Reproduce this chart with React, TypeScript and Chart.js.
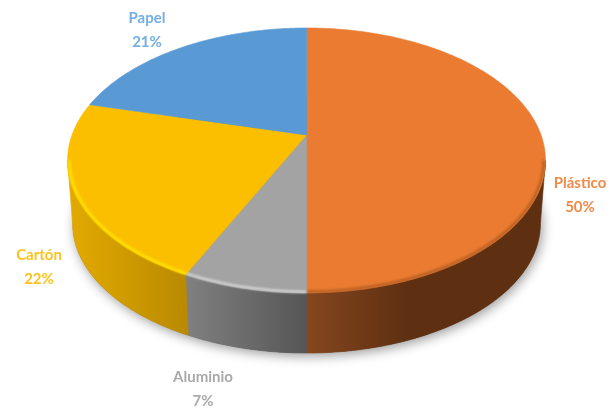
import React, { useEffect, useRef } from "react";
import { Chart, registerables } from "chart.js";

Chart.register(...registerables);

const categories = ["Plástico", "Aluminio", "Cartón", "Papel"];
const shares = [50, 7, 22, 21];
const percentLabels = ["50%", "7%", "22%", "21%"];
const faceColors = ["#EA7B30", "#A3A3A3", "#FBBF00", "#5A9AD4"];
const textColors = ["#F08A48", "#A9A9A9", "#FDC21C", "#74AEE2"];
const sideStops = [
  [[0, "#86461F"], [0.42, "#5E3011"], [1, "#5E3011"]],
  [[0, "#808080"], [1, "#565656"]],
  [[0, "#E3AA00"], [1, "#BA8A00"]],
  [[0, "#3F6E99"], [1, "#3F6E99"]],
];
const bevelColors = ["rgba(120,60,20,0.45)", "#D4D4D4", "#FFE600", "#5A9AD4"];
const labelCentres = [[580, 183], [203, 377], [39, 255], [147, 18]];
const LINE_GAP = 24.5;

// projection of the round pie onto the screen
const K = 0.1925;
const TOP = { w: 234.5, h: 127.6, dy: 0 };
const BASE = { w: 229.5, h: 124.4, dy: 64 };

function place(el: any, a: number, level: typeof TOP, ring = 1) {
  const u = Math.cos(a) * ring;
  const v = Math.sin(a) * ring;
  const d = 1 - K * v;
  return [el.x + (level.w * u) / d, el.y + level.dy + (level.h * v) / d];
}

function sweep(ctx: CanvasRenderingContext2D, el: any, from: number, to: number, level: typeof TOP, ring = 1, move = false) {
  const n = Math.max(2, Math.ceil(Math.abs(to - from) * 60));
  for (let i = 0; i <= n; i++) {
    const p = place(el, from + ((to - from) * i) / n, level, ring);
    if (i === 0 && move) ctx.moveTo(p[0], p[1]);
    else ctx.lineTo(p[0], p[1]);
  }
}

const pie3d = {
  id: "pie3d",
  beforeDatasetDraw(chart: any) {
    const ctx: CanvasRenderingContext2D = chart.ctx;
    const arcs = chart.getDatasetMeta(0).data;
    const first = arcs[0];
    const edge = Math.asin(K);
    ctx.save();

    // soft shadow under the base
    ctx.save();
    ctx.shadowColor = "rgba(0,0,0,0.4)";
    ctx.shadowBlur = 12;
    ctx.shadowOffsetX = 2;
    ctx.shadowOffsetY = 3;
    ctx.fillStyle = "#666";
    ctx.beginPath();
    sweep(ctx, first, 0, Math.PI * 2, BASE, 1, true);
    ctx.closePath();
    ctx.fill();
    ctx.restore();

    // side walls
    arcs.forEach((el: any, i: number) => {
      const from = Math.max(el.startAngle, edge);
      const to = Math.min(el.endAngle, Math.PI - edge);
      if (to <= from) return;
      const x0 = place(el, from, TOP)[0];
      const x1 = place(el, to, TOP)[0];
      const g = ctx.createLinearGradient(Math.min(x0, x1), 0, Math.max(x0, x1), 0);
      sideStops[i].forEach((s) => g.addColorStop(s[0] as number, s[1] as string));
      ctx.fillStyle = g;
      ctx.strokeStyle = g;
      ctx.lineWidth = 0.6;
      ctx.beginPath();
      sweep(ctx, el, from, to, TOP, 1, true);
      sweep(ctx, el, to, from, BASE);
      ctx.closePath();
      ctx.fill();
      ctx.stroke();
    });

    // top faces
    arcs.forEach((el: any) => {
      ctx.fillStyle = el.options.backgroundColor;
      ctx.strokeStyle = el.options.backgroundColor;
      ctx.lineWidth = 0.6;
      ctx.beginPath();
      ctx.moveTo(el.x, el.y);
      sweep(ctx, el, el.startAngle, el.endAngle, TOP);
      ctx.closePath();
      ctx.fill();
      ctx.stroke();
    });

    // bevel along the front rim
    ctx.save();
    ctx.filter = "blur(0.8px)";
    arcs.forEach((el: any, i: number) => {
      const from = Math.max(el.startAngle, edge);
      const to = Math.min(el.endAngle, Math.PI - edge);
      if (to <= from) return;
      ctx.strokeStyle = bevelColors[i];
      ctx.lineWidth = 2.5;
      ctx.beginPath();
      sweep(ctx, el, from, to, TOP, 0.993, true);
      ctx.stroke();
    });
    ctx.restore();

    ctx.restore();
    return false;
  },
  afterDatasetsDraw(chart: any) {
    const ctx: CanvasRenderingContext2D = chart.ctx;
    ctx.save();
    ctx.font = "bold 15px Lato";
    ctx.textAlign = "center";
    ctx.textBaseline = "middle";
    categories.forEach((name, i) => {
      const [x, y] = labelCentres[i];
      ctx.fillStyle = textColors[i];
      ctx.fillText(name, x, y);
      ctx.fillText(percentLabels[i], x, y + LINE_GAP);
    });
    ctx.restore();
  },
};

export default function App() {
  const ref = useRef<HTMLCanvasElement>(null);
  useEffect(() => {
    const chart = new Chart(ref.current as HTMLCanvasElement, {
      type: "pie",
      data: {
        labels: categories,
        datasets: [{ data: shares, backgroundColor: faceColors, borderWidth: 0 }],
      },
      options: {
        animation: false,
        responsive: false,
        layout: { padding: { top: 0, bottom: 141 } },
        plugins: { legend: { display: false }, tooltip: { enabled: false } },
      },
      plugins: [pie3d],
    } as any);
    return () => chart.destroy();
  }, []);
  return (
    <div style={{ position: "absolute", left: 0, top: 0, width: 613, height: 411, background: "#fff" }}>
      <canvas ref={ref} width={613} height={411} style={{ display: "block", width: 613, height: 411, filter: "blur(0.5px)" }} />
    </div>
  );
}
